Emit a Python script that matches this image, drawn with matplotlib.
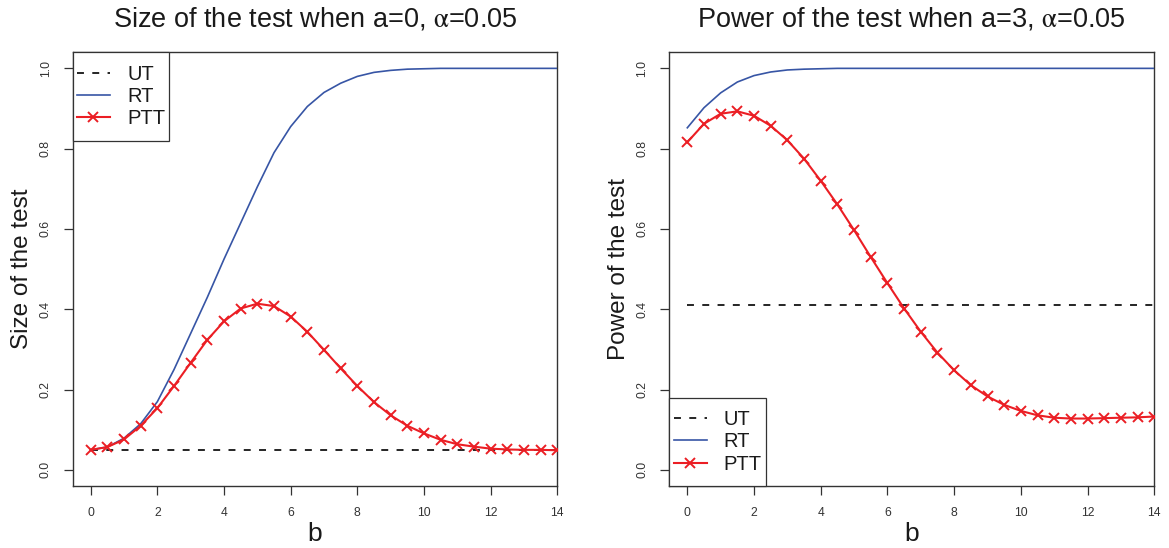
import matplotlib
matplotlib.use("Agg")
import matplotlib.pyplot as plt
from matplotlib.path import Path

plt.rcParams['font.family'] = ['Liberation Sans', 'DejaVu Sans']
plt.rcParams['mathtext.fontset'] = 'stix'
plt.rcParams['lines.scale_dashes'] = False

# ---------------- data ----------------
b_values = [0, 0.5, 1, 1.5, 2, 2.5, 3, 3.5, 4, 4.5, 5, 5.5, 6, 6.5, 7, 7.5,
            8, 8.5, 9, 9.5, 10, 10.5, 11, 11.5, 12, 12.5, 13, 13.5, 14]

size_ut = 0.05
size_rt = [0.050, 0.057, 0.079, 0.115, 0.170, 0.250, 0.340, 0.430, 0.525, 0.615,
           0.705, 0.790, 0.855, 0.905, 0.940, 0.963, 0.980, 0.990, 0.995, 0.998,
           0.999, 1.0, 1.0, 1.0, 1.0, 1.0, 1.0, 1.0, 1.0]
size_ptt = [0.050, 0.057, 0.076, 0.110, 0.154, 0.209, 0.267, 0.324, 0.370, 0.402,
            0.414, 0.408, 0.382, 0.344, 0.299, 0.253, 0.209, 0.169, 0.136, 0.110,
            0.091, 0.075, 0.064, 0.058, 0.053, 0.051, 0.050, 0.050, 0.049]

power_ut = 0.41
power_rt = [0.852, 0.902, 0.939, 0.966, 0.982, 0.991, 0.996, 0.998, 0.999,
            1.0, 1.0, 1.0, 1.0, 1.0, 1.0, 1.0, 1.0, 1.0, 1.0, 1.0,
            1.0, 1.0, 1.0, 1.0, 1.0, 1.0, 1.0, 1.0, 1.0]
power_ptt = [0.816, 0.862, 0.887, 0.893, 0.882, 0.857, 0.821, 0.775, 0.720, 0.661,
             0.597, 0.530, 0.465, 0.402, 0.344, 0.292, 0.248, 0.211, 0.183, 0.162,
             0.147, 0.136, 0.130, 0.128, 0.128, 0.129, 0.130, 0.131, 0.133]

x_ticks = [0, 2, 4, 6, 8, 10, 12, 14]
y_ticks = [0.0, 0.2, 0.4, 0.6, 0.8, 1.0]
y_ticklabels = ["0.0", "0.2", "0.4", "0.6", "0.8", "1.0"]

titles = [r"Size of the test when a=0, $\mathrm{\alpha}$=0.05",
          r"Power of the test when a=3, $\mathrm{\alpha}$=0.05"]
ylabels = ["Size of the test", "Power of the test"]
legend_labels = ["UT", "RT", "PTT"]

# ---------------- style ----------------
BLUE = '#3755A5'
RED = '#EB1E24'
DARK = '#333333'

W, H = 1169, 548
fig = plt.figure(figsize=(W / 100, H / 100), dpi=100)

ax_top, ax_bot = 52.3, 486.0
axes_px = [(72.7, 557.3), (669.3, 1154.3)]
axes = []
for (x0, x1) in axes_px:
    axes.append(fig.add_axes([x0 / W, 1 - ax_bot / H, (x1 - x0) / W, (ax_bot - ax_top) / H]))

ax_h_px = ax_bot - ax_top
leg_fs = 14.5
leg_fs_px = leg_fs * 100 / 72
vpad = 0.4


class VPadBox:
    def __init__(self, vpad):
        self.vpad = vpad

    def __call__(self, x0, y0, width, height, mutation_size):
        p = self.vpad * mutation_size
        return Path([(x0, y0 - p), (x0 + width, y0 - p), (x0 + width, y0 + height + p),
                     (x0, y0 + height + p), (x0, y0 - p)], closed=True)


series = [(size_ut, size_rt, size_ptt), (power_ut, power_rt, power_ptt)]
for i, ax in enumerate(axes):
    ut, rt, ptt = series[i]
    l1, = ax.plot([b_values[0], b_values[-1]], [ut, ut], color='black', lw=1.2,
                  linestyle=(0, (5, 6)), zorder=2)
    l2, = ax.plot(b_values, rt, color=BLUE, lw=1.2, zorder=3)
    l3, = ax.plot(b_values, ptt, color=RED, lw=1.5, marker='x', markersize=7,
                  markeredgewidth=1.4, zorder=4)

    ax.set_xlim(-0.54, 14.0)
    ax.set_ylim(-0.04, 1.04)
    ax.set_xticks(x_ticks)
    ax.set_yticks(y_ticks)
    ax.set_yticklabels(y_ticklabels, rotation=90, va='center')
    ax.tick_params(axis='both', direction='out', length=6.5, width=0.9, color=DARK,
                   labelsize=8.7, labelcolor=DARK, pad=8.5)
    for s in ax.spines.values():
        s.set_color(DARK)
        s.set_linewidth(1.0)

    ax.set_title(titles[i], fontsize=19.5, pad=18.4, color='#1a1a1a')
    ax.set_ylabel(ylabels[i], fontsize=17.5, color='#1a1a1a')
    ax.yaxis.set_label_coords(-0.082, 0.5)
    ax.set_xlabel("b", fontsize=19, color='#1a1a1a', va='top')
    ax.xaxis.set_label_coords(0.5, -0.083)

    shift = vpad * leg_fs_px / ax_h_px
    common = dict(fontsize=leg_fs, handlelength=1.64, handletextpad=0.85,
                  borderpad=0.21, labelspacing=0.17, fancybox=False,
                  framealpha=1, edgecolor=DARK, numpoints=1, borderaxespad=0)
    if i == 0:
        leg = ax.legend([l1, l2, l3], legend_labels, loc='upper left',
                        bbox_to_anchor=(0, 1 - shift), **common)
    else:
        leg = ax.legend([l1, l2, l3], legend_labels, loc='lower left',
                        bbox_to_anchor=(0, shift), **common)
    frame = leg.get_frame()
    frame.set_linewidth(0.9)
    frame.set_boxstyle(VPadBox(vpad))
    for t in leg.get_texts():
        t.set_color('#1a1a1a')

fig.savefig("out.png", dpi=100)
